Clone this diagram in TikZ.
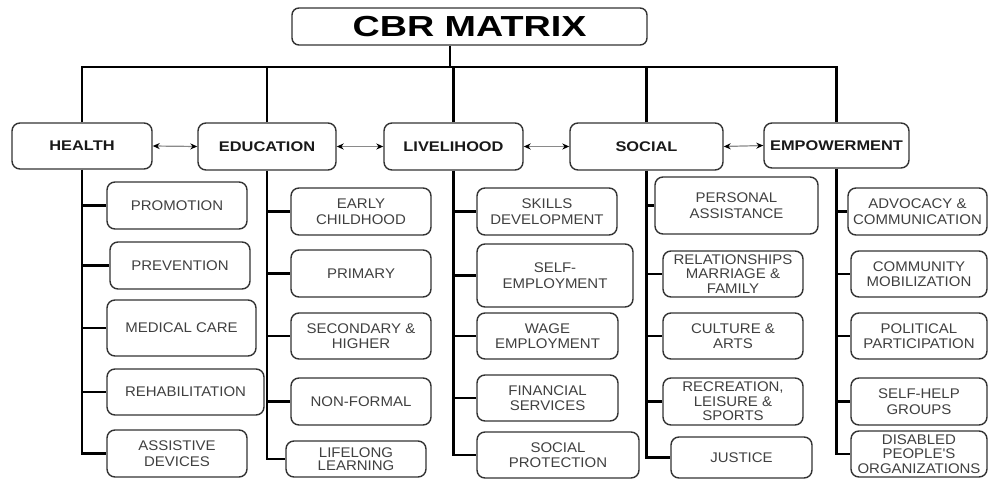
\documentclass[tikz,border=0pt]{standalone}
\usepackage{fontspec}
\setmainfont{Liberation Sans}
\newfontfamily\childfont{Liberation Sans}[FakeStretch=1.07]
\newfontfamily\headfont{Liberation Sans}[FakeStretch=1.17]
\newfontfamily\titlefont{Liberation Sans}[FakeStretch=1.3]
\usetikzlibrary{arrows.meta}
\definecolor{boxline}{HTML}{333333}
\definecolor{subtext}{HTML}{404040}
\definecolor{linkgray}{HTML}{8A8A8A}
\begin{document}
\begin{tikzpicture}[x=1pt,y=-1pt,
  box/.style={draw=boxline, line width=1.4pt, rounded corners=8pt, fill=white, inner sep=0pt, align=center},
  sub/.style={box, text=subtext, font=\childfont\fontsize{14}{15.5}\selectfont},
  head/.style={box, text=black!90, font=\headfont\bfseries\fontsize{14}{16}\selectfont},
  wire/.style={line width=2.4pt, black, line join=miter},
  hlink/.style={draw=linkgray, line width=1.2pt, {Stealth[length=7pt,width=6pt,black]}-{Stealth[length=7pt,width=6pt,black]}}
]
\useasboundingbox (0,0) rectangle (988,479);
\fill[white] (0,0) rectangle (988,479);

% title
\node[box, rounded corners=7pt, minimum width=355, minimum height=37, font=\titlefont\bfseries\fontsize{29}{30}\selectfont] (title) at (469.5,26.5) {CBR MATRIX};

% headers
\node[head, minimum width=140, minimum height=46] (health) at (82,146) {HEALTH};
\node[head, minimum width=138, minimum height=47] (education) at (267,146.5) {EDUCATION};
\node[head, minimum width=139, minimum height=47] (livelihood) at (453.5,146.5) {LIVELIHOOD};
\node[head, minimum width=153, minimum height=47] (social) at (646.5,146.5) {SOCIAL};
\node[head, minimum width=145, minimum height=45] (empowerment) at (836.5,145.5) {EMPOWERMENT};

% health
\node[sub, minimum width=140, minimum height=47] (prom) at (177,205.5) {PROMOTION};
\node[sub, minimum width=140, minimum height=47] (prev) at (180,265.5) {PREVENTION};
\node[sub, minimum width=149, minimum height=56] (med) at (181.5,328) {MEDICAL CARE};
\node[sub, minimum width=157, minimum height=46] (rehab) at (185.5,392) {REHABILITATION};
\node[sub, minimum width=140, minimum height=47] (assist) at (177,453.5) {ASSISTIVE\\DEVICES};

% education
\node[sub, minimum width=140, minimum height=47] (early) at (361,211.5) {EARLY\\CHILDHOOD};
\node[sub, minimum width=140, minimum height=47] (primary) at (361,273.5) {PRIMARY};
\node[sub, minimum width=140, minimum height=46] (second) at (361,336) {SECONDARY \&\\HIGHER};
\node[sub, minimum width=140, minimum height=47] (nonformal) at (361,401.5) {NON-FORMAL};
\node[sub, minimum width=140, minimum height=36] (lifelong) at (356,459) {LIFELONG\\[-2pt]LEARNING};

% livelihood
\node[sub, minimum width=140, minimum height=47] (skills) at (547,211.5) {SKILLS\\DEVELOPMENT};
\node[sub, minimum width=156, minimum height=63] (selfemp) at (555,275.5) {SELF-\\EMPLOYMENT};
\node[sub, minimum width=141, minimum height=46] (wage) at (547.5,336) {WAGE\\EMPLOYMENT};
\node[sub, minimum width=141, minimum height=46] (financial) at (547.5,398) {FINANCIAL\\SERVICES};
\node[sub, minimum width=162, minimum height=46] (socprot) at (558,455) {SOCIAL\\PROTECTION};

% social
\node[sub, minimum width=163, minimum height=57] (personal) at (736.5,205.5) {PERSONAL\\ASSISTANCE};
\node[sub, minimum width=140, minimum height=46, font=\childfont\fontsize{14}{14.5}\selectfont] (relation) at (733,274) {RELATIONSHIPS\\MARRIAGE \&\\FAMILY};
\node[sub, minimum width=140, minimum height=46] (culture) at (733,336) {CULTURE \&\\ARTS};
\node[sub, minimum width=140, minimum height=47, font=\childfont\fontsize{14}{14.5}\selectfont] (recreation) at (733,401.5) {RECREATION,\\LEISURE \&\\SPORTS};
\node[sub, minimum width=141, minimum height=41] (justice) at (741.5,457.5) {JUSTICE};

% empowerment
\node[sub, minimum width=139, minimum height=47] (advocacy) at (917.5,211.5) {ADVOCACY \&\\COMMUNICATION};
\node[sub, minimum width=136, minimum height=46] (community) at (919,274) {COMMUNITY\\MOBILIZATION};
\node[sub, minimum width=136, minimum height=46] (political) at (919,336) {POLITICAL\\PARTICIPATION};
\node[sub, minimum width=136, minimum height=47] (selfhelp) at (919,401.5) {SELF-HELP\\GROUPS};
\node[sub, minimum width=136, minimum height=46, font=\childfont\fontsize{14}{14.5}\selectfont] (disabled) at (919,454) {DISABLED\\PEOPLE'S\\ORGANIZATIONS};

% bus
\coordinate (bus) at (450,67);
\draw[line width=1.5pt] (title.south -| bus) -- (bus);
\draw[wire] (health.north) |- (bus) -| (empowerment.north);
\draw[wire] (education.north) -- (education.north |- bus);
\draw[wire] (livelihood.north) -- (livelihood.north |- bus);
\draw[wire] (social.north) -- (social.north |- bus);

% header links
\draw[hlink] (health.east) -- (education.west);
\draw[hlink] (education.east) -- (livelihood.west);
\draw[hlink] (livelihood.east) -- (social.west);
\draw[hlink] (social.east) -- (empowerment.west);

% spines
\draw[wire] (health.south) -- (health.south |- assist.west) -- (assist.west);
\foreach \n in {prom,prev,med,rehab} \draw[wire] (health.south |- \n.west) -- (\n.west);
\draw[wire] (education.south) -- (education.south |- lifelong.west) -- (lifelong.west);
\foreach \n in {early,primary,second,nonformal} \draw[wire] (education.south |- \n.west) -- (\n.west);
\draw[wire] (livelihood.south) -- (livelihood.south |- socprot.west) -- (socprot.west);
\foreach \n in {skills,selfemp,wage,financial} \draw[wire] (livelihood.south |- \n.west) -- (\n.west);
\draw[wire] (social.south) -- (social.south |- justice.west) -- (justice.west);
\foreach \n in {personal,relation,culture,recreation} \draw[wire] (social.south |- \n.west) -- (\n.west);
\draw[wire] (empowerment.south) -- (empowerment.south |- disabled.west) -- (disabled.west);
\foreach \n in {advocacy,community,political,selfhelp} \draw[wire] (empowerment.south |- \n.west) -- (\n.west);
\end{tikzpicture}
\end{document}
